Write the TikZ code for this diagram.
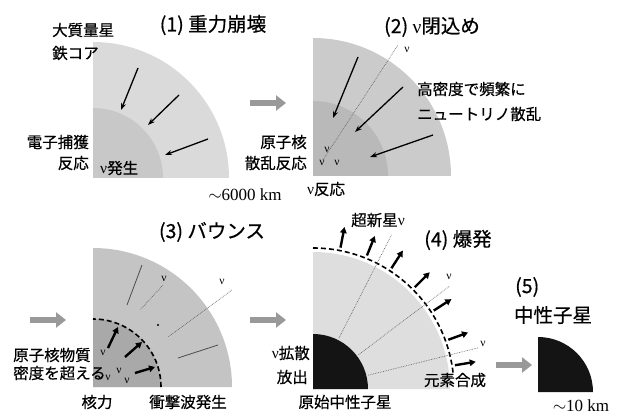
\documentclass[tikz,border=0pt]{standalone}
\usepackage{fontspec}
\setmainfont{Noto Sans CJK JP}[FakeBold=0.5]
\newfontfamily\nufont{Liberation Serif}
\usetikzlibrary{arrows.meta}

\definecolor{ironout}{HTML}{DADADA}
\definecolor{ironin}{HTML}{C8C8C8}
\definecolor{trapout}{HTML}{CBCBCB}
\definecolor{trapin}{HTML}{B9B9B9}
\definecolor{bounceout}{HTML}{C4C4C4}
\definecolor{bouncein}{HTML}{A9A9A9}
\definecolor{blastgas}{HTML}{DEDEDE}
\definecolor{nscore}{HTML}{141414}
\definecolor{stagegray}{HTML}{999999}

\newcommand{\nuv}{{\nufont ν}}

\tikzset{
  txt/.style={font=\fontsize{15.5}{17}\selectfont, inner sep=0pt},
  stagetitle/.style={font=\fontsize{19.5}{21}\selectfont, inner sep=0pt},
  kmtxt/.style={font=\fontsize{17}{18}\nufont, inner sep=0pt},
  nutxt/.style={font=\fontsize{11.5}{12}\nufont, inner sep=0pt},
  stagearrow/.style={draw=stagegray, line width=6.5pt, -{Triangle[length=10pt,width=15pt]}},
  fallarrow/.style={-{Stealth[length=7pt,width=5pt]}, line width=1.3pt},
  outarrow/.style={-{Triangle[length=6pt,width=6.5pt]}, line width=2.4pt},
  nuline/.style={densely dotted, draw=black!60, line width=0.7pt},
  infall/.style={draw=black!70, line width=0.8pt},
}

\begin{document}
\begin{tikzpicture}[x=1pt, y=-1pt]
  \useasboundingbox (0,0) rectangle (618,414);

  \coordinate (c1) at (93,178);
  \coordinate (c2) at (313,176);
  \coordinate (c3) at (93,387);
  \coordinate (c4) at (313,389);
  \coordinate (c5) at (538,392);

  % (1) collapse of the iron core
  \fill[ironout] (c1) -- ++(136,0) arc[start angle=0, end angle=-90, radius=136] -- cycle;
  \fill[ironin] (c1) -- ++(70,0) arc[start angle=0, end angle=-90, radius=70] -- cycle;
  \draw[fallarrow] (138,68) -- (121,110);
  \draw[fallarrow] (179,95) -- (148,125);
  \draw[fallarrow] (208,139) -- (165,155);

  % (2) neutrino trapping
  \fill[trapout] (c2) -- ++(138,0) arc[start angle=0, end angle=-90, radius=138] -- cycle;
  \fill[trapin] (c2) -- ++(75,0) arc[start angle=0, end angle=-90, radius=75] -- cycle;
  \draw[nuline] (323,160) -- (398,45);
  \draw[fallarrow] (358,57) -- (333,118);
  \draw[fallarrow] (403,87) -- (355,132);
  \draw[fallarrow] (433,135) -- (370,157);
  \foreach \x/\y in {407/50, 327/150, 322/163, 337/163}
    \node[nutxt] at (\x,\y) {ν};

  % (3) bounce
  \fill[bounceout] (c3) -- ++(139,0) arc[start angle=0, end angle=-90, radius=139] -- cycle;
  \fill[bouncein] (c3) -- ++(68,0) arc[start angle=0, end angle=-90, radius=68] -- cycle;
  \draw[line width=1.6pt, dash pattern=on 5pt off 3pt] ([shift={(68,0)}]c3) arc[start angle=0, end angle=-90, radius=68];
  \draw[infall] (142,265) -- (127,305);
  \draw[infall] (218,345) -- (178,358);
  \draw[nuline] (163,285) -- (140,310);
  \draw[nuline] (232,290) -- (168,337);
  \fill (158,325) circle (1.2);
  \draw[outarrow] (108,348) -- (118,327);
  \draw[outarrow] (125,357) -- (142,342);
  \draw[outarrow] (135,373) -- (155,367);
  \foreach \x/\y in {164/279, 222/282, 103/353, 108/378, 119/371, 127/381}
    \node[nutxt] at (\x,\y) {ν};

  % (4) explosion
  \fill[blastgas] (c4) -- ++(137,0) arc[start angle=0, end angle=-90, radius=137] -- cycle;
  \fill[nscore] (c4) -- ++(55,0) arc[start angle=0, end angle=-90, radius=55] -- cycle;
  \draw[line width=1.6pt, dash pattern=on 5pt off 3pt] ([shift={(-90:141)}]c4) arc[start angle=-90, end angle=-6, radius=141];
  \foreach \a/\r in {63/173, 37/171, 14/170}
    \draw[nuline] ([shift={(-\a:57)}]c4) -- ([shift={(-\a:\r)}]c4);
  \foreach \a in {79,68,57,45,33,20,9.5}
    \draw[outarrow] ([shift={(-\a:144)}]c4) -- ([shift={(-\a:165)}]c4);
  \node[nutxt] at (449,277) {ν};
  \node[nutxt] at (483,344) {ν};

  % (5) neutron star
  \fill[nscore] (c5) -- ++(55,0) arc[start angle=0, end angle=-90, radius=55] -- cycle;

  % stage arrows
  \coordinate (s12a) at (250,103);  \coordinate (s12b) at (286,103);
  \coordinate (s23a) at (30,320);   \coordinate (s23b) at (66,320);
  \coordinate (s34a) at (250,320);  \coordinate (s34b) at (286,320);
  \coordinate (s45a) at (496,365);  \coordinate (s45b) at (532,365);
  \draw[stagearrow] (s12a) -- (s12b);
  \draw[stagearrow] (s23a) -- (s23b);
  \draw[stagearrow] (s34a) -- (s34b);
  \draw[stagearrow] (s45a) -- (s45b);

  % titles
  \node[stagetitle] (t1) at (213,25) {(1) 重力崩壊};
  \node[stagetitle] (t2) at (432,27) {(2) \nuv 閉込め};
  \node[stagetitle] (t3) at (212,232) {(3) バウンス};
  \node[stagetitle] (t4) at (458,240) {(4) 爆発};
  \node[stagetitle, anchor=west] (t5) at (515,287) {(5)};
  \node[stagetitle] (t5b) at (553,315) {中性子星};

  % labels
  \node[txt, anchor=west] (massive) at (52,30) {大質量星};
  \node[txt, anchor=west] (ironcore) at (52,53) {鉄コア};
  \node[txt, anchor=east] (ecap) at (89,142) {電子捕獲};
  \node[txt, anchor=east] (ecapb) at (89,163) {反応};
  \node[txt, anchor=west] (nuprod) at (100,168) {\nuv 発生};
  \node[kmtxt] (size1) at (245,195) {$\sim$6000 km};
  \node[txt, anchor=west] (dense) at (417,89) {高密度で頻繁に};
  \node[txt, anchor=west] (scat) at (417,114) {ニュートリノ散乱};
  \node[txt, anchor=east] (nucl) at (307,142) {原子核};
  \node[txt, anchor=east] (nuclb) at (307,163) {散乱反応};
  \node[txt] (nureact) at (326,189) {\nuv 反応};
  \node[txt, anchor=west] (nmat) at (13,355) {原子核物質};
  \node[txt, anchor=west] (nmatb) at (13,373) {密度を超える};
  \node[txt] (nforce) at (97,402) {核力};
  \node[txt] (shock) at (188,402) {衝撃波発生};
  \node[txt] (snnu) at (378,220) {超新星\nuv};
  \node[txt, anchor=east] (diff) at (310,353) {\nuv 拡散};
  \node[txt, anchor=east] (emit) at (308,377) {放出};
  \node[txt] (nsyn) at (455,380) {元素合成};
  \node[txt] (pns) at (345,402) {原始中性子星};
  \node[kmtxt] (size5) at (581,406) {$\sim$10 km};
\end{tikzpicture}
\end{document}
